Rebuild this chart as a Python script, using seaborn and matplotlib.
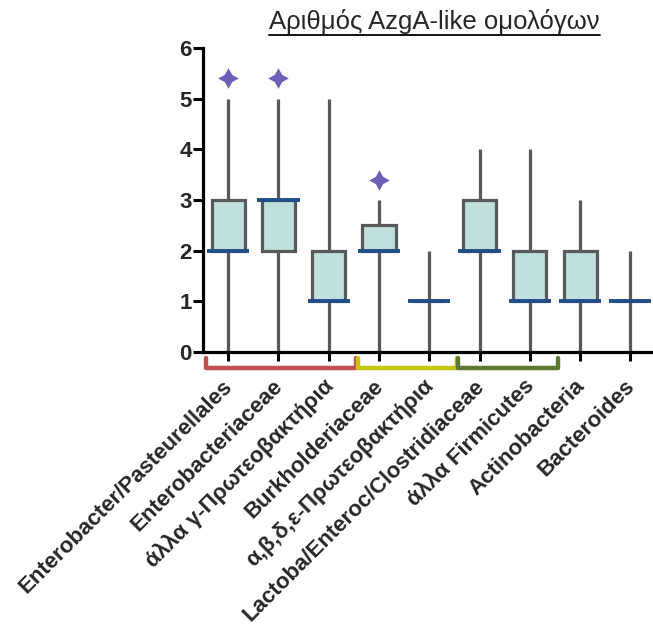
import numpy as np
import pandas as pd
import matplotlib
matplotlib.use("Agg")
import matplotlib.pyplot as plt
import matplotlib.transforms as mtransforms
import seaborn as sns

# ---- data (five-number summaries) ----
categories = ["Enterobacter/Pasteurellales", "Enterobacteriaceae", "άλλα γ-Πρωτεοβακτήρια",
              "Burkholderiaceae", "α,β,δ,ε-Πρωτεοβακτήρια", "Lactoba/Enteroc/Clostridiaceae",
              "άλλα Firmicutes", "Actinobacteria", "Bacteroides"]
minimum = [0, 0, 0, 0, 0, 0, 0, 0, 0]
q1      = [2, 2, 1, 2, 1, 2, 1, 1, 1]
median  = [2, 3, 1, 2, 1, 2, 1, 1, 1]
q3      = [3, 3, 2, 2.5, 1, 3, 2, 2, 1]
maximum = [5, 5, 5, 3, 2, 4, 4, 3, 2]

star_cats = [0, 1, 3]
star_vals = [5.4, 5.4, 3.4]

groups = [(-0.45, 2.55, "#c0504d"), (2.58, 4.55, "#c8c40a"), (4.58, 6.56, "#5b7a2f")]

title = "Αριθμός AzgA-like ομολόγων"
yticks = [0, 1, 2, 3, 4, 5, 6]

# build long table from the summaries
rows = []
for c, a, b, m, d, e in zip(categories, minimum, q1, median, q3, maximum):
    for v in (a, b, m, d, e):
        rows.append({"cat": c, "val": v})
df = pd.DataFrame(rows)

sns.set_style("ticks")
plt.rcParams["font.family"] = ["Liberation Sans", "DejaVu Sans"]

fig = plt.figure(figsize=(6.53, 6.28), dpi=100)
ax = fig.add_axes([0.311, 0.4395, 0.689, 0.4841])

gray = "#595959"
blue = "#1f4e8a"
sns.boxplot(data=df, x="cat", y="val", order=categories, ax=ax,
            whis=(0, 100), showcaps=False, width=0.66, color="#bfe0dc",
            saturation=1, linecolor=gray, linewidth=2.3, fliersize=0,
            medianprops={"linewidth": 0})

xs = np.arange(len(categories))
ax.hlines(median, xs - 0.42, xs + 0.42, color=blue, lw=2.8, zorder=6)

ax.scatter(star_cats, star_vals, marker=(4, 1, 0), s=220, color="#6c5fb8",
           zorder=7, linewidths=0)

ax.set_xlim(-0.5, 8.45)
ax.set_ylim(0, 6)
ax.set_yticks(yticks)
ax.set_xlabel("")
ax.set_ylabel("")
for s in ("top", "right"):
    ax.spines[s].set_visible(False)
for s in ("left", "bottom"):
    ax.spines[s].set_linewidth(2.3)
    ax.spines[s].set_color("black")
ax.tick_params(axis="both", width=2.2, color="black")
ax.tick_params(axis="y", labelsize=16, pad=1, length=7)
ax.tick_params(axis="x", labelsize=16, pad=10.5, length=6.5)
for lab in ax.get_yticklabels():
    lab.set_fontweight("bold")
ax.set_xticks(xs)
ax.set_xticklabels(categories, rotation=45, ha="right", rotation_mode="anchor",
                   fontweight="bold")
shift = mtransforms.ScaledTranslation(-6 / 100, 0, fig.dpi_scale_trans)
for lab in ax.get_xticklabels():
    lab.set_transform(lab.get_transform() + shift)

# colored brackets below the axis
trans = mtransforms.blended_transform_factory(ax.transData, ax.transAxes)
for x0, x1, col in groups:
    ax.plot([x0, x0, x1, x1], [-0.02, -0.053, -0.053, -0.02], transform=trans,
            color=col, lw=3.2, clip_on=False, solid_joinstyle="round",
            solid_capstyle="round")

# underlined title
t = fig.text(0.665, 1 - 21 / 628, title, ha="center", va="center", fontsize=18.5)
fig.canvas.draw()
bb = t.get_window_extent(fig.canvas.get_renderer())
fig_w, fig_h = fig.bbox.width, fig.bbox.height
yline = (bb.y0 - 1) / fig_h
fig.add_artist(plt.Line2D([bb.x0 / fig_w, bb.x1 / fig_w], [yline, yline],
                          color="black", lw=1.3, transform=fig.transFigure))

fig.savefig("out.png", dpi=100)
